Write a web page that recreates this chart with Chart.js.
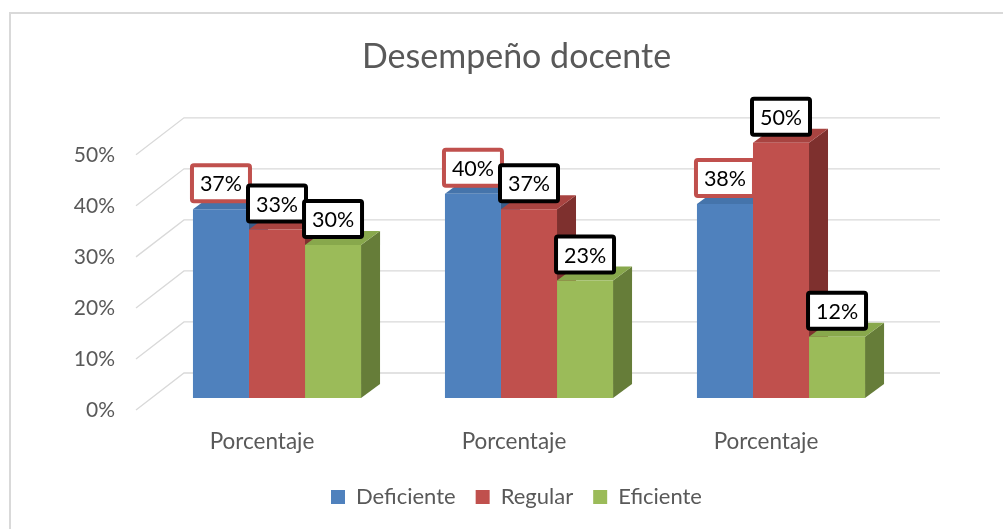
<!DOCTYPE html>
<html>
<head>
<meta charset="utf-8">
<script src="https://cdn.jsdelivr.net/npm/chart.js@4.4.0/dist/chart.umd.min.js"></script>
<style>
  body { margin: 0; background: #fff; overflow: hidden; }
  #frame { position: absolute; left: 9px; top: 12px; width: 1100px; height: 600px;
           border-left: 2px solid #d9d9d9; border-top: 2px solid #d9d9d9; }
  #wrap { position: absolute; left: 0; top: 0; width: 1003px; height: 529px; }
</style>
</head>
<body>
<div id="frame"></div>
<div id="wrap"><canvas id="chart" width="1003" height="529"></canvas></div>
<script>
// data
const categories = ['Porcentaje', 'Porcentaje', 'Porcentaje'];
const seriesNames = ['Deficiente', 'Regular', 'Eficiente'];
const deficiente = [37, 40, 38];
const regular = [33, 37, 50];
const eficiente = [30, 23, 12];

// fake 3D look
const WALL_X = 48, WALL_Y = -37;     // floor/back wall depth
const SHIFT_X = 15, SHIFT_Y = -12;   // bars sit a bit behind the front plane
const DEPTH_X = 19, DEPTH_Y = -14;   // bar thickness

const FONT = 'Lato, "Open Sans", sans-serif';

const threeD = {
  id: 'threeD',
  beforeDatasetsDraw(chart) {
    const { ctx, chartArea, scales: { y } } = chart;

    // slanted floor lines + back wall grid
    ctx.save();
    ctx.strokeStyle = '#d9d9d9';
    ctx.lineWidth = 1.3;
    y.ticks.forEach(t => {
      const py = y.getPixelForValue(t.value);
      ctx.beginPath();
      ctx.moveTo(chartArea.left, py);
      ctx.lineTo(chartArea.left + WALL_X, py + WALL_Y);
      ctx.lineTo(chartArea.right + WALL_X, py + WALL_Y);
      ctx.stroke();
    });
    ctx.restore();

    // side and top faces, left to right
    const bars = [];
    chart.data.datasets.forEach((ds, i) => {
      chart.getDatasetMeta(i).data.forEach(el => bars.push({ el, ds }));
    });
    bars.sort((a, b) => a.el.x - b.el.x);

    ctx.save();
    ctx.translate(SHIFT_X, SHIFT_Y);
    bars.forEach(({ el, ds }) => {
      const { x, y: top, base, width } = el.getProps(['x', 'y', 'base', 'width'], true);
      const l = x - width / 2, r = x + width / 2;
      ctx.fillStyle = ds.sideColor;
      ctx.beginPath();
      ctx.moveTo(r, top);
      ctx.lineTo(r + DEPTH_X, top + DEPTH_Y);
      ctx.lineTo(r + DEPTH_X, base + DEPTH_Y);
      ctx.lineTo(r, base);
      ctx.closePath();
      ctx.fill();
      ctx.fillStyle = ds.topColor;
      ctx.beginPath();
      ctx.moveTo(l, top);
      ctx.lineTo(l + DEPTH_X, top + DEPTH_Y);
      ctx.lineTo(r + DEPTH_X, top + DEPTH_Y);
      ctx.lineTo(r, top);
      ctx.closePath();
      ctx.fill();
    });
    ctx.restore();

    // front faces drawn by the library in the shifted position
    ctx.save();
    ctx.translate(SHIFT_X, SHIFT_Y);
  },
  afterDatasetsDraw(chart) {
    const ctx = chart.ctx;
    ctx.restore();

    // value labels in boxes
    ctx.save();
    ctx.font = '21.5px ' + FONT;
    ctx.textAlign = 'center';
    ctx.textBaseline = 'middle';
    const n = chart.data.labels.length;
    for (let j = 0; j < n; j++) {
      chart.data.datasets.forEach((ds, i) => {
        const el = chart.getDatasetMeta(i).data[j];
        const cx = el.x + SHIFT_X;
        const cy = el.y + SHIFT_Y - 26;
        ctx.lineWidth = 4;
        ctx.strokeStyle = ds.labelBorder;
        ctx.fillStyle = '#fff';
        ctx.beginPath();
        ctx.roundRect(cx - 29, cy - 18, 58, 36, 2);
        ctx.fill();
        ctx.stroke();
        ctx.fillStyle = '#000';
        ctx.fillText(ds.data[j] + '%', cx, cy + 1);
      });
    }
    ctx.restore();
  }
};

new Chart(document.getElementById('chart'), {
  type: 'bar',
  data: {
    labels: categories,
    datasets: [
      { label: seriesNames[0], data: deficiente, backgroundColor: '#4f81bd',
        sideColor: '#385d8a', topColor: '#4574ab', labelBorder: '#c0504d' },
      { label: seriesNames[1], data: regular, backgroundColor: '#c0504d',
        sideColor: '#7e302e', topColor: '#a84340', labelBorder: '#000' },
      { label: seriesNames[2], data: eficiente, backgroundColor: '#9bbb59',
        sideColor: '#667d39', topColor: '#88a84c', labelBorder: '#000' }
    ]
  },
  options: {
    responsive: false,
    animation: false,
    devicePixelRatio: 1,
    datasets: {
      bar: { barPercentage: 1, categoryPercentage: 0.667, borderWidth: 0, clip: false }
    },
    layout: { padding: { left: 30, right: 0, top: 0, bottom: 11 } },
    plugins: {
      title: {
        display: true,
        text: 'Desempeño docente',
        color: '#595959',
        font: { family: FONT, size: 34, weight: 'normal' },
        padding: { top: 37, bottom: 77 }
      },
      legend: {
        position: 'bottom',
        labels: {
          color: '#595959',
          font: { family: FONT, size: 22 },
          boxWidth: 14,
          boxHeight: 14,
          padding: 20
        }
      },
      tooltip: { enabled: false }
    },
    scales: {
      x: {
        grid: { display: false, drawTicks: false },
        border: { display: false },
        ticks: { color: '#595959', font: { family: FONT, size: 22.5 }, padding: 18 },
        afterFit: s => { s.height = 56; }
      },
      y: {
        min: 0,
        max: 50,
        grid: { display: false, drawTicks: false },
        border: { display: false },
        ticks: {
          stepSize: 10,
          color: '#595959',
          font: { family: FONT, size: 21 },
          padding: 21,
          callback: v => v + '%'
        },
        afterFit: s => { s.width = 106; }
      },
      y2: {
        type: 'linear',
        position: 'right',
        grid: { display: false, drawTicks: false },
        border: { display: false },
        ticks: { display: false },
        afterFit: s => { s.width = 111; }
      }
    }
  },
  plugins: [threeD]
});
</script>
</body>
</html>
